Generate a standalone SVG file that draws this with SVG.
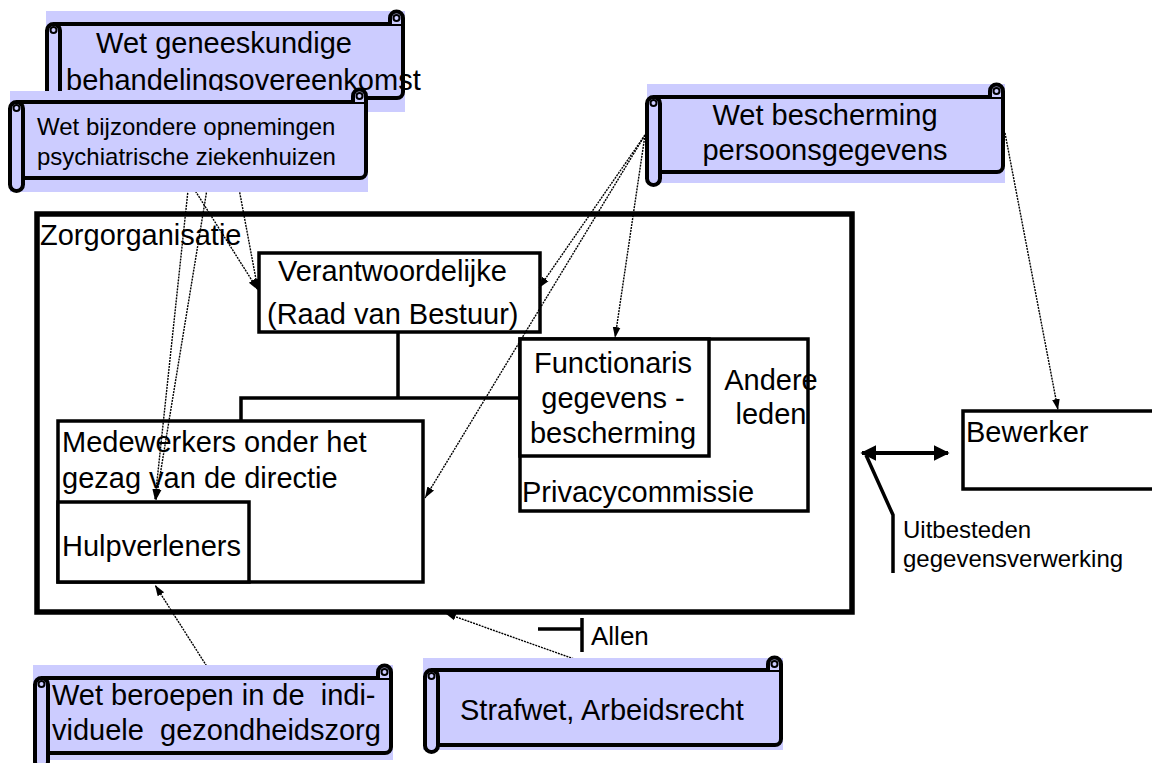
<svg xmlns="http://www.w3.org/2000/svg" width="1152" height="763" viewBox="0 0 1152 763">
<style>
.t{font-family:"Liberation Sans",Arial,sans-serif;fill:#000;white-space:pre}
.bg{fill:#CCCCFF}
.sc{fill:#CCCCFF;stroke:#000;stroke-width:4;stroke-linejoin:round}
.curl{fill:none;stroke:#000;stroke-width:2}
.box{fill:#fff;stroke:#000;stroke-width:3.5}
.ln{fill:none;stroke:#000;stroke-width:3.5}
.dot{fill:none;stroke:#000;stroke-width:1.4;stroke-dasharray:2,1}
</style>
<defs>
<marker id="ah" viewBox="0 0 10 10" refX="10" refY="5" markerWidth="11" markerHeight="11" markerUnits="userSpaceOnUse" orient="auto">
<path d="M0,1.5 L10,5 L0,8.5 Z" fill="#000"/>
</marker>
<marker id="ah2" viewBox="0 0 10 10" refX="9" refY="5" markerWidth="4" markerHeight="4" orient="auto">
<path d="M0,0 L10,5 L0,10 Z" fill="#000"/>
</marker>
<marker id="ah2s" viewBox="0 0 10 10" refX="1" refY="5" markerWidth="4" markerHeight="4" orient="auto">
<path d="M10,0 L0,5 L10,10 Z" fill="#000"/>
</marker>
</defs>

<g id="zorgorganisatie">
<rect x="37" y="214" width="815" height="398" fill="none" stroke="#000" stroke-width="5.5"/>
<text class="t" x="40" y="245" font-size="29">Zorgorganisatie</text>
</g>

<g id="verantwoordelijke">
<rect class="box" x="259" y="253" width="281" height="79"/>
<text class="t" x="278" y="281" font-size="29">Verantwoordelijke</text>
<text class="t" x="267" y="324" font-size="29">(Raad van Bestuur)</text>
</g>

<g id="medewerkers">
<rect class="box" x="58" y="421" width="365" height="161"/>
<text class="t" x="62" y="452" font-size="29">Medewerkers onder het</text>
<text class="t" x="62" y="488" font-size="29">gezag van de directie</text>
</g>

<g id="hulpverleners">
<rect class="box" x="58" y="502" width="191" height="80"/>
<text class="t" x="62" y="556" font-size="29">Hulpverleners</text>
</g>

<g id="privacycommissie">
<rect class="box" x="520" y="339" width="288" height="172"/>
<text class="t" x="771" y="390" font-size="29" text-anchor="middle">Andere</text>
<text class="t" x="771" y="424" font-size="29" text-anchor="middle">leden</text>
<text class="t" x="522" y="502" font-size="29">Privacycommissie</text>
</g>

<g id="functionaris">
<rect class="box" x="520" y="339" width="189" height="117"/>
<text class="t" x="613" y="373" font-size="29" text-anchor="middle">Functionaris</text>
<text class="t" x="613" y="408" font-size="29" text-anchor="middle">gegevens -</text>
<text class="t" x="613" y="443" font-size="29" text-anchor="middle">bescherming</text>
</g>

<g id="bewerker">
<rect class="box" x="963" y="411" width="195" height="78"/>
<text class="t" x="966" y="442" font-size="29">Bewerker</text>
</g>

<g id="connectors">
<path class="ln" d="M398,332 V398 M241,421 V398 H520"/>
<path d="M862,453 H948" stroke="#000" stroke-width="4" marker-start="url(#ah2s)" marker-end="url(#ah2)"/>
<path d="M866,455 L893,515 V573" fill="none" stroke="#000" stroke-width="3.5"/>
<path d="M538,629 H582 M582,618 V652" fill="none" stroke="#000" stroke-width="3.5"/>
<path class="dot" d="M222,98 L258,290" marker-end="url(#ah)"/>
<path class="dot" d="M222,98 L156,500" marker-end="url(#ah)"/>
<path class="dot" d="M189,181 L258,290" marker-end="url(#ah)"/>
<path class="dot" d="M189,181 L155,500" marker-end="url(#ah)"/>
<path class="dot" d="M645,135 L539,288" marker-end="url(#ah)"/>
<path class="dot" d="M645,135 L615,338" marker-end="url(#ah)"/>
<path class="dot" d="M645,135 L425,498" marker-end="url(#ah)"/>
<path class="dot" d="M1005,133 L1058,410" marker-end="url(#ah)"/>
<path class="dot" d="M213,676 L155,585" marker-end="url(#ah)"/>
<path class="dot" d="M605,670 L445,613" marker-end="url(#ah)"/>
</g>

<g id="uitbesteden-label">
<text class="t" x="903" y="538" font-size="24">Uitbesteden</text>
<text class="t" x="903" y="567" font-size="24">gegevensverwerking</text>
</g>
<g id="allen-label">
<text class="t" x="591" y="645" font-size="26">Allen</text>
</g>

<g id="wgbo">
<rect class="bg" x="46" y="11" width="359" height="101"/>
<path class="sc" d="M53,24 H403 V92 A6,6 0 0 1 397,98 H53"/>
<path class="sc" d="M390,24 V18 A6.5,6.5 0 0 1 403,18 V24"/>
<circle class="curl" cx="396.5" cy="18" r="3"/>
<rect class="sc" x="47" y="24" width="13" height="87" rx="6.5"/>
<circle class="curl" cx="53.5" cy="30" r="3"/>
<text class="t" x="224" y="53" font-size="29" text-anchor="middle">Wet geneeskundige</text>
<text class="t" x="66" y="90" font-size="29">behandelingsovereenkomst</text>
</g>

<g id="bopz">
<rect class="bg" x="10" y="91" width="358" height="101"/>
<path class="sc" d="M16,102 H366 V172 A6,6 0 0 1 360,178 H16"/>
<path class="sc" d="M353,102 V96 A6.5,6.5 0 0 1 366,96 V102"/>
<circle class="curl" cx="359.5" cy="96" r="3"/>
<rect class="sc" x="10" y="102" width="13" height="89" rx="6.5"/>
<circle class="curl" cx="16.5" cy="108" r="3"/>
<text class="t" x="37" y="135" font-size="24">Wet bijzondere opnemingen</text>
<text class="t" x="37" y="165" font-size="24">psychiatrische ziekenhuizen</text>
</g>

<g id="wbp">
<rect class="bg" x="647" y="84" width="358" height="99"/>
<path class="sc" d="M653,97 H1003 V166 A6,6 0 0 1 997,172 H653"/>
<path class="sc" d="M990,97 V91 A6.5,6.5 0 0 1 1003,91 V97"/>
<circle class="curl" cx="996.5" cy="91" r="3"/>
<rect class="sc" x="647" y="97" width="13" height="88" rx="6.5"/>
<circle class="curl" cx="653.5" cy="103" r="3"/>
<text class="t" x="825" y="125" font-size="29" text-anchor="middle">Wet bescherming</text>
<text class="t" x="825" y="160" font-size="29" text-anchor="middle">persoonsgegevens</text>
</g>

<g id="big">
<rect class="bg" x="33" y="665" width="360" height="95"/>
<path class="sc" d="M41,678 H391 V747 A6,6 0 0 1 385,753 H41"/>
<path class="sc" d="M378,678 V672 A6.5,6.5 0 0 1 391,672 V678"/>
<circle class="curl" cx="384.5" cy="672" r="3"/>
<rect class="sc" x="35" y="678" width="13" height="90" rx="6.5"/>
<circle class="curl" cx="41.5" cy="684" r="3"/>
<text class="t" x="52" y="705" font-size="29">Wet beroepen in de  indi-</text>
<text class="t" x="52" y="740" font-size="29">viduele  gezondheidszorg</text>
</g>

<g id="strafwet">
<rect class="bg" x="423" y="658" width="360" height="92"/>
<path class="sc" d="M431,670 H781 V739 A6,6 0 0 1 775,745 H431"/>
<path class="sc" d="M768,670 V664 A6.5,6.5 0 0 1 781,664 V670"/>
<circle class="curl" cx="774.5" cy="664" r="3"/>
<rect class="sc" x="425" y="670" width="13" height="82" rx="6.5"/>
<circle class="curl" cx="431.5" cy="676" r="3"/>
<text class="t" x="460" y="720" font-size="29">Strafwet, Arbeidsrecht</text>
</g>
</svg>
